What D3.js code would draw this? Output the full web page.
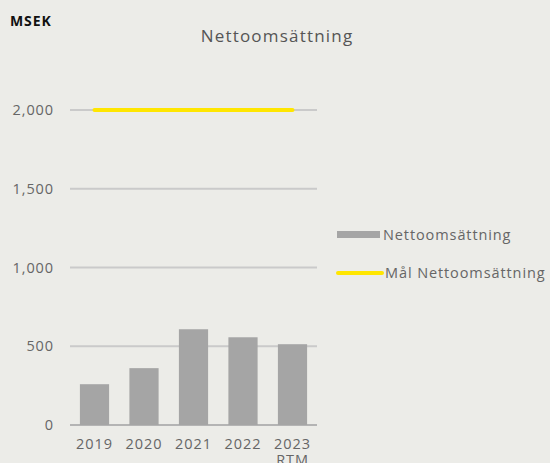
<!DOCTYPE html>
<html><head><meta charset="utf-8">
<script src="https://cdn.jsdelivr.net/npm/d3@7"></script>
<style>body{margin:0;background:#ecece8;}svg{display:block;font-family:"Open Sans",Lato,sans-serif;}</style>
</head><body><svg id="c" width="550" height="463"></svg>
<script>
const categories = ["2019","2020","2021","2022","2023\nRTM"];
const nettoomsattning = [259, 361, 608, 557, 513];
const malNettoomsattning = [2000, 2000, 2000, 2000, 2000];
const yTicks = [0, 500, 1000, 1500, 2000];

const svg = d3.select("#c");
svg.append("rect").attr("width",550).attr("height",463).attr("fill","#ecece8");
const x = d3.scaleBand().domain(categories).range([70,317]).paddingInner(0.41).paddingOuter(0.2);
const y = d3.scaleLinear().domain([0,2000]).range([425,110]);

// gridlines
svg.append("g").selectAll("line").data(yTicks).join("line")
  .attr("x1",70).attr("x2",317).attr("y1",d=>y(d)).attr("y2",d=>y(d))
  .attr("stroke",d=>d===0?"#b4b4b4":"#cacaca").attr("stroke-width",2);

// y labels
const yAxis = d3.axisLeft(y).tickValues(yTicks).tickSize(0).tickPadding(16).tickFormat(d3.format(","));
const gy = svg.append("g").attr("transform","translate(70,0)").call(yAxis);
gy.select(".domain").remove();
gy.selectAll("text").attr("fill","#666").attr("font-size",14.5).attr("letter-spacing",0.9).attr("font-family","'Open Sans',sans-serif");

// bars
svg.append("g").selectAll("rect").data(nettoomsattning).join("rect")
  .attr("x",(d,i)=>x(categories[i])).attr("width",x.bandwidth())
  .attr("y",d=>y(d)).attr("height",d=>y(0)-y(d)).attr("fill","#a5a5a5");

// target line
const line = d3.line().x((d,i)=>x(categories[i])+x.bandwidth()/2).y(d=>y(d));
svg.append("path").datum(malNettoomsattning).attr("d",line)
  .attr("fill","none").attr("stroke","#ffe600").attr("stroke-width",4).attr("stroke-linecap","round");

// x labels
const gx = svg.append("g");
categories.forEach((c,i)=>{
  c.split("\n").forEach((l,j)=>gx.append("text").attr("x",x(c)+x.bandwidth()/2).attr("y",449+j*16)
    .attr("text-anchor","middle").attr("fill","#666").attr("font-size",14.5).attr("letter-spacing",0.9).text(l));
});

// title
svg.append("text").attr("x",277).attr("y",42).attr("text-anchor","middle")
  .attr("fill","#555").attr("font-size",17).attr("letter-spacing",1.2).text("Nettoomsättning");
svg.append("text").attr("x",10).attr("y",26).attr("fill","#111")
  .attr("font-size",14).attr("font-weight","bold").attr("letter-spacing",0.9).text("MSEK");

// legend
svg.append("rect").attr("x",337).attr("y",231).attr("width",43).attr("height",7).attr("fill","#a5a5a5");
svg.append("text").attr("x",383).attr("y",240).attr("fill","#666").attr("font-size",14.5).attr("letter-spacing",0.9).text("Nettoomsättning");
svg.append("line").attr("x1",338).attr("x2",382).attr("y1",273).attr("y2",273)
  .attr("stroke","#ffe600").attr("stroke-width",4).attr("stroke-linecap","round");
svg.append("text").attr("x",385).attr("y",278).attr("fill","#666").attr("font-size",14.5).attr("letter-spacing",0.9).text("Mål Nettoomsättning");
</script></body></html>
